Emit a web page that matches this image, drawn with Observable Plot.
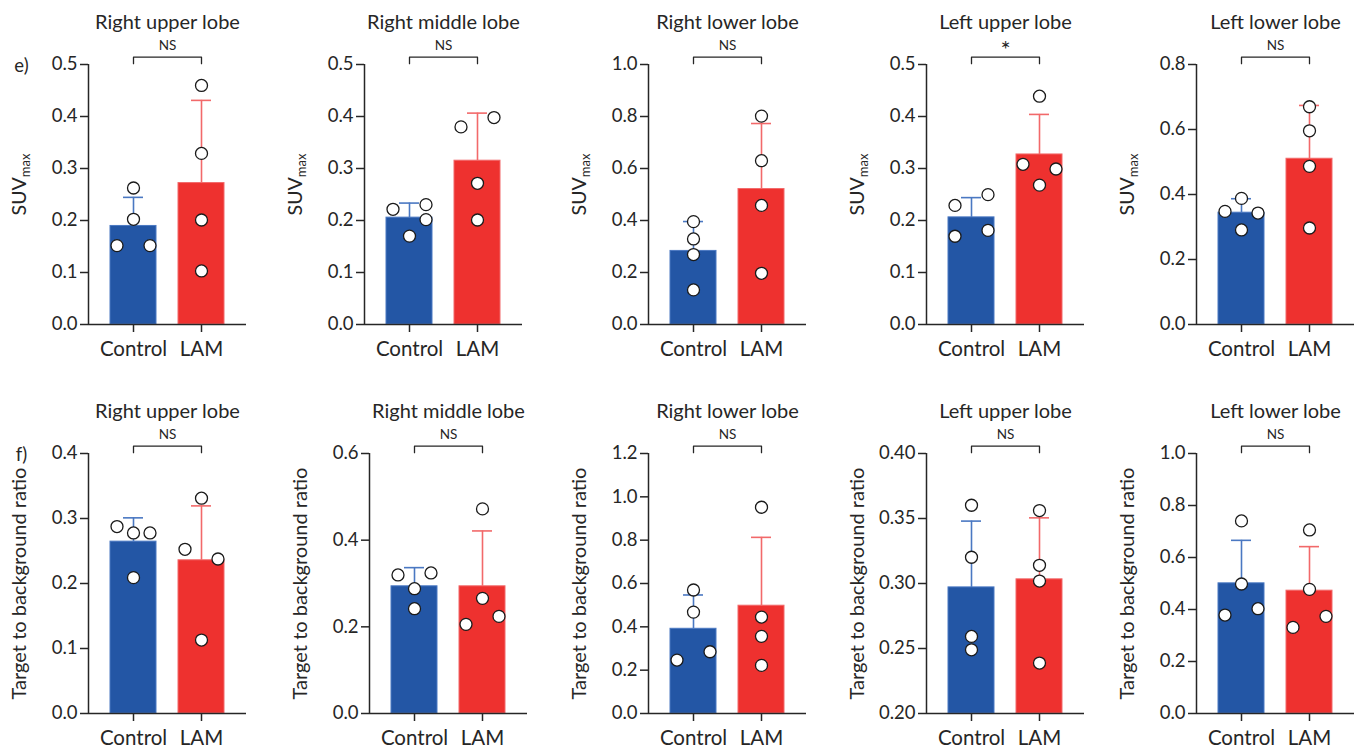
<!DOCTYPE html>
<html><head><meta charset="utf-8">
<script src="https://cdn.jsdelivr.net/npm/d3@7"></script>
<script src="https://cdn.jsdelivr.net/npm/@observablehq/plot@0.6"></script>
<style>
body{margin:0;background:#fff;}
#root{position:relative;width:1362px;height:748px;overflow:hidden;font-family:Lato,sans-serif;}
.panel{position:absolute;}
</style></head><body><div id="root"></div>
<script>
// ---------- data ----------
const lobes = ["Right upper lobe","Right middle lobe","Right lower lobe","Left upper lobe","Left lower lobe"];
const groups = ["Control","LAM"];

// Row e) SUVmax
const suvMean = [[0.1895,0.272],[0.2055,0.315],[0.283,0.521],[0.206,0.327],[0.344,0.510]];
const suvSD   = [[0.055,0.159],[0.028,0.0915],[0.113,0.252],[0.038,0.077],[0.043,0.164]];
const suvControl = [[0.2625,0.2023,0.1517,0.1517],[0.2215,0.2305,0.2017,0.170],[0.3956,0.329,0.269,0.133],[0.229,0.2497,0.1697,0.181],[0.388,0.348,0.343,0.291]];
const suvLAM     = [[0.4597,0.329,0.201,0.103],[0.380,0.398,0.2715,0.201],[0.8015,0.63,0.458,0.197],[0.439,0.308,0.299,0.268],[0.670,0.596,0.4866,0.297]];
const suvSig = ["NS","NS","NS","*","NS"];
const suvDomain = [[0,0.5],[0,0.5],[0,1.0],[0,0.5],[0,0.8]];
const suvStep = [0.1,0.1,0.2,0.1,0.2];

// Row f) Target to background ratio
const tbrMean = [[0.2644,0.2357],[0.2935,0.2935],[0.391,0.4975],[0.297,0.3032],[0.5006,0.4724]];
const tbrSD   = [[0.0366,0.0837],[0.0431,0.1278],[0.156,0.3155],[0.051,0.0473],[0.1654,0.1694]];
const tbrControl = [[0.2876,0.2778,0.2778,0.209],[0.3197,0.3243,0.288,0.2419],[0.570,0.468,0.2465,0.285],[0.3602,0.3202,0.2593,0.249],[0.7407,0.498,0.3787,0.403]];
const tbrLAM     = [[0.2526,0.3312,0.2377,0.113],[0.4722,0.2657,0.2057,0.2241],[0.952,0.445,0.356,0.222],[0.3561,0.314,0.3019,0.2388],[0.706,0.4775,0.3312,0.3736]];
const tbrSig = ["NS","NS","NS","NS","NS"];
const tbrDomain = [[0,0.4],[0,0.6],[0,1.2],[0.2,0.4],[0,1.0]];
const tbrStep = [0.1,0.2,0.2,0.05,0.2];

const rowLetters = ["e)","f)"];
const rowLabels = ["SUVmax","Target to background ratio"];

// ---------- styling / layout ----------
const barColor = {Control:"#2356a5", LAM:"#ee312f"};
const errColor = {Control:"#4a78c2", LAM:"#f2696a"};
const ink = "#262626";
const panelW = 272, frameW = 158, frameH = 260, mTop = 64, mBottom = 44;
const rowTop = [0, 389];
const marginLefts = [[88,92,104,110,108],[88,97,104,110,108]];
const dotR = 6, spread = 16.5;

const rows = [
  {mean:suvMean, sd:suvSD, ctrl:suvControl, lam:suvLAM, sig:suvSig, domain:suvDomain, step:suvStep, labelDy:-10, labelSize:19.5},
  {mean:tbrMean, sd:tbrSD, ctrl:tbrControl, lam:tbrLAM, sig:tbrSig, domain:tbrDomain, step:tbrStep, labelDy:0, labelSize:20}
];

// scatter slot (-1, 0, 1) so overlapping points are spread sideways
function slots(vals, d0, d1) {
  const px = vals.map(v => (v - d0) / (d1 - d0) * frameH);
  const order = d3.range(vals.length).sort((a, b) => px[a] - px[b]);
  const clusters = []; let cur = [order[0]];
  for (let k = 1; k < order.length; k++) {
    if (px[order[k]] - px[order[k-1]] < 2 * dotR) cur.push(order[k]);
    else { clusters.push(cur); cur = [order[k]]; }
  }
  clusters.push(cur);
  const out = new Array(vals.length).fill(0);
  for (const c of clusters) {
    const members = c.slice().sort((a, b) => a - b);
    const cols = [], colOf = {};
    for (const i of members) {
      let ci = 0;
      while (cols[ci] && cols[ci].some(j => Math.abs(px[j] - px[i]) < 2 * dotR)) ci++;
      (cols[ci] ||= []).push(i); colOf[i] = ci;
    }
    const k = cols.length;
    for (const i of members) out[i] = k === 1 ? 0 : (colOf[i] / (k - 1)) * 2 - 1;
  }
  return out;
}

const root = document.getElementById("root");

rows.forEach((row, r) => {
  lobes.forEach((lobe, c) => {
    const [d0, d1] = row.domain[c];
    const step = row.step[c];
    const nT = Math.round((d1 - d0) / step);
    const ticks = d3.range(nT + 1).map(i => +(d0 + i * step).toFixed(4));
    const fmt = d3.format(step < 0.1 ? ".2f" : ".1f");
    const bars = groups.map((g, gi) => ({group: g, mean: row.mean[c][gi], top: row.mean[c][gi] + row.sd[c][gi]}));
    const pts = [];
    [row.ctrl[c], row.lam[c]].forEach((vals, gi) => {
      const s = slots(vals, d0, d1);
      vals.forEach((v, i) => pts.push({group: groups[gi], value: v, slot: s[i]}));
    });
    const ml = marginLefts[r][c];
    const yBr = d1 + (d1 - d0) * 7.3 / frameH;
    const yTip = d1 + (d1 - d0) * 0.8 / frameH;
    const bracket = [
      {x: groups[0], y: yTip}, {x: groups[0], y: yBr}, {x: groups[1], y: yBr}, {x: groups[1], y: yTip}
    ];
    const sig = row.sig[c];

    const marks = [];
    groups.forEach(g => {
      const bd = bars.filter(d => d.group === g);
      marks.push(Plot.barY(bd, {x: "group", y1: d0, y2: "mean", fill: barColor[g], stroke: errColor[g], strokeWidth: 1}));
      marks.push(Plot.ruleX(bd, {x: "group", y1: "mean", y2: "top", stroke: errColor[g], strokeWidth: 1.6}));
      marks.push(Plot.tickY(bd, {x: "group", y: "top", stroke: errColor[g], strokeWidth: 1.6, insetLeft: 13, insetRight: 13}));
    });
    marks.push(Plot.ruleY([d0], {stroke: ink, strokeWidth: 1.5}));
    marks.push(Plot.ruleX([0], {x: null, dx: -frameW / 2, stroke: ink, strokeWidth: 1.5}));
    marks.push(Plot.axisY({ticks, tickFormat: fmt, tickSize: 8, tickPadding: 3, fontSize: 18.5, label: null, strokeWidth: 1.5, stroke: ink, fill: ink}));
    marks.push(Plot.axisX({tickSize: 8, tickPadding: 9, fontSize: 20.5, label: null, strokeWidth: 1.5, stroke: ink, fill: ink}));
    [-1, 0, 1].forEach(s => {
      marks.push(Plot.dot(pts.filter(p => p.slot === s), {x: "group", y: "value", dx: s * spread, r: dotR, fill: "white", stroke: "#1a1a1a", strokeWidth: 1.3}));
    });
    marks.push(Plot.line(bracket, {x: "x", y: "y", stroke: ink, strokeWidth: 1.3}));
    marks.push(Plot.text([sig], {text: d => d, frameAnchor: "top", lineAnchor: "middle", textAnchor: "middle", dy: sig === "*" ? -14 : -19, fontSize: sig === "*" ? 24 : 13.5, fill: ink}));
    marks.push(Plot.text([lobe], {text: d => d, frameAnchor: "top", lineAnchor: "middle", textAnchor: "middle", dy: -42, fontSize: 20, fill: ink}));
    marks.push(Plot.text([rowLabels[r]], {text: d => d, frameAnchor: "left", lineAnchor: "middle", textAnchor: "middle", rotate: -90, dx: -69, dy: row.labelDy, fontSize: row.labelSize, fill: ink}));
    if (c === 0) marks.push(Plot.text([rowLetters[r]], {text: d => d, frameAnchor: "top-left", lineAnchor: "middle", textAnchor: "middle", dx: -67, dy: 2, fontSize: 18.5, fill: ink}));

    const svg = Plot.plot({
      width: panelW, height: mTop + frameH + mBottom,
      marginLeft: ml, marginRight: panelW - ml - frameW, marginTop: mTop, marginBottom: mBottom,
      x: {type: "band", domain: groups, padding: 0.3235, label: null},
      y: {domain: [d0, d1], label: null},
      style: {fontFamily: "Lato, sans-serif", color: ink, background: "transparent", overflow: "visible"},
      marks
    });
    // subscript for SUVmax
    d3.select(svg).selectAll("text").filter(function() { return this.textContent === "SUVmax"; }).each(function() {
      const t = d3.select(this);
      t.text("SUV");
      t.append("tspan").attr("dy", "0.3em").attr("font-size", 13).text("max");
    });
    const div = document.createElement("div");
    div.className = "panel";
    div.style.left = (c * panelW) + "px";
    div.style.top = rowTop[r] + "px";
    div.appendChild(svg);
    root.appendChild(div);
  });
});
</script>
</body></html>
